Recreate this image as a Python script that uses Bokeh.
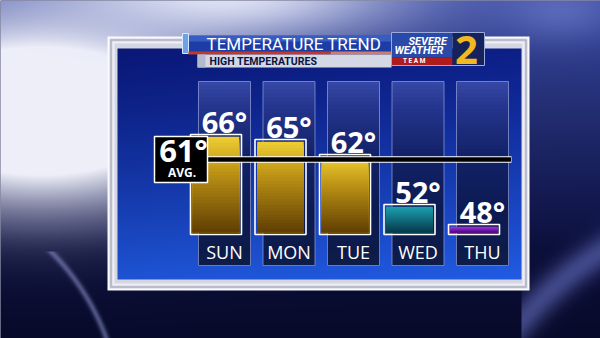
import numpy as np
from bokeh.plotting import figure
from bokeh.models import Range1d, ColumnDataSource
from bokeh.embed import file_html
from bokeh.resources import INLINE
from bokeh.core.properties import value

# ---------------- data ----------------
days = ["SUN", "MON", "TUE", "WED", "THU"]
highs = [66, 65, 62, 52, 48]
avg_high = 61
title_text = "TEMPERATURE TREND"
subtitle_text = "HIGH TEMPERATURES"
avg_text = "AVG."

# ---------------- layout constants ----------------
W, H = 600, 338
BASE = 46.0            # temperature at the bar baseline
PX_PER_DEG = 5.0
BASE_PX = H - 234      # baseline height (y up)
DAY0_PX = 215.5        # centre of first bar
DAY_STEP = 64.5
COL_SHIFT = 8.5 / DAY_STEP
BAR_W = 51 / DAY_STEP
COL_W = 52 / DAY_STEP


def T(y):  # top-down pixel -> y-up pixel
    return H - y


def hexc(rgb):
    return "#%02x%02x%02x" % tuple(int(round(max(0, min(255, v)))) for v in rgb)


def grad(stops, f):
    for (f0, c0), (f1, c1) in zip(stops[:-1], stops[1:]):
        if f <= f1:
            t = (f - f0) / (f1 - f0) if f1 > f0 else 0
            return [a + (b - a) * t for a, b in zip(c0, c1)]
    return stops[-1][1]


temp_start = BASE - BASE_PX / PX_PER_DEG
temp_end = temp_start + H / PX_PER_DEG

p = figure(width=W, height=H, x_range=Range1d(0, W), y_range=Range1d(0, H),
           toolbar_location=None, output_backend="svg", min_border=0,
           x_axis_type=None, y_axis_type=None)
p.outline_line_color = None
p.background_fill_color = "#0d1245"
p.border_fill_color = "#0d1245"
p.extra_x_ranges = {"day": Range1d(-DAY0_PX / DAY_STEP, (W - DAY0_PX) / DAY_STEP)}
p.extra_y_ranges = {"temp": Range1d(temp_start, temp_end)}

# ---------------- background photo, frame and panel (raster decor) ----------------
yy, xx = np.mgrid[0:H, 0:W].astype(float)


def lerp(c, target, t):
    return c + (np.array(target, float) - c) * t[..., None]


c = np.zeros((H, W, 3))
c[:] = [12, 16, 62]
t = np.clip(1 - yy / 250, 0, 1) ** 1.1
c = lerp(c, [60, 78, 172], t * 0.9)
g = np.exp(-(((xx - 40) / 175) ** 2 + ((yy - 110) / 88) ** 2))
c = lerp(c, [238, 239, 249], np.clip(g * 1.7, 0, 1))
g2 = np.exp(-(((xx - 220) / 180) ** 2 + ((yy + 5) / 45) ** 2))
c = lerp(c, [222, 226, 244], np.clip(g2 * 1.0, 0, 1))
g3 = np.exp(-(((xx - 560) / 60) ** 2 + ((yy - 10) / 30) ** 2))
c = lerp(c, [110, 124, 200], g3 * 0.6)
t = np.clip((yy - 230) / 110, 0, 1)
c = lerp(c, [6, 8, 34], t * 0.75)
r = np.sqrt((xx - 780) ** 2 + (yy - 540) ** 2)
band = np.exp(-((r - 340) / 16) ** 2) * (xx > 520)
c = lerp(c, [110, 120, 205], band * 0.55)
r2 = np.sqrt((xx + 120) ** 2 + (yy - 420) ** 2)
band2 = np.exp(-((r2 - 240) / 3) ** 2) * (yy > 250)
c = lerp(c, [150, 160, 220], band2 * 0.5)

# silver frame
FX0, FY0, FX1, FY1 = 107, 36, 529, 290
PX0, PY0, PX1, PY1 = 117, 48, 521, 279
inframe = (xx >= FX0) & (xx < FX1) & (yy >= FY0) & (yy < FY1)
d_out = np.minimum.reduce([xx - FX0, FX1 - 1 - xx, yy - FY0, FY1 - 1 - yy])
d_in = np.minimum.reduce([PX0 - 1 - xx, xx - PX1, PY0 - 1 - yy, yy - PY1])
fr = np.zeros((H, W, 3))
fr[:] = [212, 214, 226]
fr[d_out < 1.5] = [250, 250, 253]
fr[(d_out >= 3) & (d_out < 4)] = [160, 163, 182]
fr[(d_out >= 5) & (d_out < 7)] = [238, 239, 246]
fr[(d_in >= 0) & (d_in < 1)] = [118, 122, 150]
c[inframe] = fr[inframe]

# blue panel
inpanel = (xx >= PX0) & (xx < PX1) & (yy >= PY0) & (yy < PY1)
tp = np.clip((yy - PY0) / (PY1 - PY0), 0, 1) ** 1.25
pc = lerp(np.zeros((H, W, 3)) + [10, 24, 120], [30, 84, 212], tp)
pc += ((xx - PX0) / (PX1 - PX0))[..., None] * np.array([3, 8, 16])
c[inpanel] = pc[inpanel]

rgba = np.dstack([np.clip(c, 0, 255), np.full((H, W), 255)]).astype(np.uint8)
img = np.ascontiguousarray(np.flipud(rgba)).view(np.uint32).reshape(H, W)
p.image_rgba(image=[img], x=0, y=0, dw=W, dh=H)

# ---------------- day columns ----------------
COL_TOP, COL_BOT = 81, 265
col_stops = [(0.0, (54, 72, 166)), (0.15, (36, 52, 140)), (0.4, (18, 34, 104)),
             (0.7, (12, 26, 82)), (1.0, (14, 28, 72))]
NS = 46
cs = dict(left=[], right=[], top=[], bottom=[], color=[])
for i, d in enumerate(days):
    cx = i + COL_SHIFT
    for k in range(NS):
        y0 = COL_TOP + (COL_BOT - COL_TOP) * k / NS
        cs["left"].append(cx - COL_W / 2)
        cs["right"].append(cx + COL_W / 2)
        cs["top"].append(T(y0))
        cs["bottom"].append(T(COL_BOT))
        cs["color"].append(hexc(grad(col_stops, (k + 0.5) / NS)))
p.quad(source=ColumnDataSource(cs), left="left", right="right", top="top", bottom="bottom",
       fill_color="color", line_color=None, x_range_name="day")
col_x = [i + COL_SHIFT for i in range(len(days))]
p.rect(x=col_x, y=[T((COL_TOP + COL_BOT) / 2)] * len(days), width=COL_W,
       height=COL_BOT - COL_TOP, fill_color=None, line_color="#8594cf", line_alpha=0.8,
       line_width=1, x_range_name="day")

# ---------------- bars ----------------
gold = [(0.0, (238, 206, 52)), (0.35, (192, 150, 22)), (1.0, (96, 62, 2))]
teal = [(0.0, (28, 160, 178)), (1.0, (6, 58, 74))]
purple = [(0.0, (172, 52, 232)), (1.0, (78, 10, 128))]
palettes = [gold, gold, gold, teal, purple]

inset_x = 2.2 / DAY_STEP
inset_y = 2.2 / PX_PER_DEG
NB = 30
bs = dict(left=[], right=[], top=[], bottom=[], color=[])
for i, (tv, pal) in enumerate(zip(highs, palettes)):
    top_v = tv - inset_y
    bot_v = BASE + inset_y
    for k in range(NB):
        a = top_v - (top_v - bot_v) * k / NB
        bs["left"].append(i - BAR_W / 2 + inset_x)
        bs["right"].append(i + BAR_W / 2 - inset_x)
        bs["top"].append(a)
        bs["bottom"].append(bot_v)
        bs["color"].append(hexc(grad(pal, (k + 0.5) / NB)))
p.vbar(x=list(range(len(days))), top=highs, bottom=BASE, width=BAR_W,
       fill_color=None, line_color="white", line_width=1.6,
       x_range_name="day", y_range_name="temp")
p.quad(source=ColumnDataSource(bs), left="left", right="right", top="top", bottom="bottom",
       fill_color="color", line_color=None, x_range_name="day", y_range_name="temp")

# ---------------- average line and box ----------------
p.segment(x0=[180], x1=[511], y0=[avg_high], y1=[avg_high], line_color="white",
          line_width=6.5, y_range_name="temp")
p.segment(x0=[180], x1=[510.5], y0=[avg_high], y1=[avg_high], line_color="black",
          line_width=4.5, y_range_name="temp")
p.rect(x=[180.5], y=[avg_high], width=53, height=46, width_units="screen",
       height_units="screen", fill_color="black", line_color="white", line_width=1.5,
       y_range_name="temp")
p.text(x=[183], y=[avg_high], text=[f"{avg_high}°"], y_offset=-9.5,
       text_align="center", text_baseline="middle", text_color="white",
       text_font=value("Open Sans"), text_font_style="bold",
       text_font_size=value("31px"), y_range_name="temp")
p.text(x=[181.5], y=[avg_high], text=[avg_text], y_offset=12.5,
       text_align="center", text_baseline="middle", text_color="white",
       text_font=value("Open Sans"), text_font_style="bold",
       text_font_size=value("12px"), y_range_name="temp")

# ---------------- value labels and day labels ----------------
p.text(x=col_x, y=highs, text=[f"{v}°" for v in highs], y_offset=-13,
       text_align="center", text_baseline="middle", text_color="white",
       text_font=value("Open Sans"), text_font_style="bold",
       text_font_size=value("29px"), x_range_name="day", y_range_name="temp")
p.text(x=col_x, y=[T(251.6)] * len(days), text=days,
       text_align="center", text_baseline="middle", text_color="white",
       text_font=value("Open Sans"), text_font_size=value("18px"), x_range_name="day")

# ---------------- title banner ----------------
p.quad(left=[186], right=[391], top=[T(35)], bottom=[T(52)], fill_color="#1c3ca6", line_color=None)
p.quad(left=[186], right=[391], top=[T(35)], bottom=[T(41)], fill_color="#5078d8",
       fill_alpha=0.55, line_color=None)
p.quad(left=[182], right=[188], top=[T(33)], bottom=[T(53)], fill_color="#6fa2e2", line_color="#d8e8ff",
       line_width=1)
p.quad(left=[188], right=[330], top=[T(51)], bottom=[T(54)], fill_color="#c23a26", line_color=None)
p.quad(left=[330], right=[391], top=[T(51)], bottom=[T(54)], fill_color="#cf7c68", line_color=None)
p.quad(left=[197], right=[391], top=[T(54)], bottom=[T(67)], fill_color="#d4d8e4", line_color=None)
p.quad(left=[197], right=[205], top=[T(54)], bottom=[T(67)], fill_color="#b4b9cc", line_color=None)
p.text(x=[206], y=[T(43.3)], text=[title_text], text_align="left", text_baseline="middle",
       text_color="white", text_font=value("Roboto"), text_font_size=value("17px"))
p.text(x=[209], y=[T(61.3)], text=[subtitle_text], text_align="left", text_baseline="middle",
       text_color="#0a1440", text_font=value("Roboto"), text_font_style="bold",
       text_font_size=value("10.5px"))

# ---------------- station logo ----------------
p.quad(left=[391], right=[452], top=[T(32)], bottom=[T(57)], fill_color="#2a4aaa", line_color=None)
p.quad(left=[391], right=[452], top=[T(57)], bottom=[T(65)], fill_color="#b01c1c", line_color=None)
p.quad(left=[452], right=[484], top=[T(32)], bottom=[T(65)], fill_color="#16225c", line_color=None)
p.quad(left=[391], right=[484], top=[T(32)], bottom=[T(65)], fill_color=None, line_color="#9aaada",
       line_width=1)
p.text(x=[408], y=[T(41)], text=["SEVERE"], text_align="left", text_baseline="middle",
       text_color="white", text_font=value("Roboto"), text_font_style="bold italic",
       text_font_size=value("11px"))
p.text(x=[394], y=[T(50)], text=["WEATHER"], text_align="left", text_baseline="middle",
       text_color="white", text_font=value("Roboto"), text_font_style="bold italic",
       text_font_size=value("11px"))
p.text(x=[421], y=[T(60.8)], text=["T    E    A    M"], text_align="center", text_baseline="middle",
       text_color="white", text_font=value("Roboto"), text_font_style="bold",
       text_font_size=value("6.5px"))
p.text(x=[466], y=[T(49.7)], text=["2"], text_align="center", text_baseline="middle",
       text_color="#f2b820", text_font=value("Open Sans"), text_font_style="bold",
       text_font_size=value("40px"))

open("out.html", "w").write(file_html(p, INLINE))
